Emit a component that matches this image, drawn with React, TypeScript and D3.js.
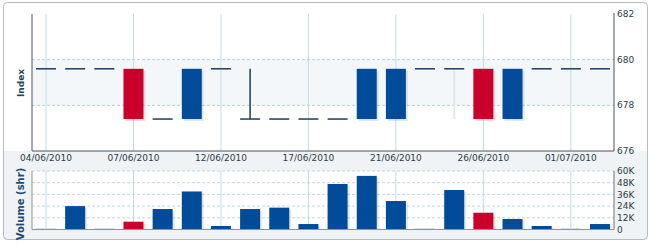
import React from "react";
import * as d3 from "d3";

const days = d3.range(20);
const openVals = [679.6, 679.6, 679.6, 679.6, 677.4, 677.4, 679.6, 677.4, 677.4, 677.4, 677.4, 677.4, 677.4, 679.6, 679.6, 679.6, 677.4, 679.6, 679.6, 679.6];
const closeVals = [679.6, 679.6, 679.6, 677.4, 677.4, 679.6, 679.6, 677.4, 677.4, 677.4, 677.4, 679.6, 679.6, 679.6, 679.6, 677.4, 679.6, 679.6, 679.6, 679.6];
const highVals = [679.6, 679.6, 679.6, 679.6, 677.4, 679.6, 679.6, 679.6, 677.4, 677.4, 677.4, 679.6, 679.6, 679.6, 679.6, 679.6, 679.6, 679.6, 679.6, 679.6];
const lowVals = [679.6, 679.6, 679.6, 677.4, 677.4, 677.4, 679.6, 677.4, 677.4, 677.4, 677.4, 677.4, 677.4, 679.6, 677.4, 677.4, 677.4, 679.6, 679.6, 679.6];
const volumes = [0, 24000, 0, 8000, 21000, 39000, 3600, 21000, 22400, 5600, 46700, 55000, 29200, 0, 40500, 17200, 10800, 3600, 0, 5600];
const dateTickIdx = [0, 3, 6, 9, 12, 15, 18];
const dateLabels = ["04/06/2010", "07/06/2010", "12/06/2010", "17/06/2010", "21/06/2010", "26/06/2010", "01/07/2010"];
const priceTicks = [676, 678, 680, 682];
const volTicks = [0, 12000, 24000, 36000, 48000, 60000];

const W = 650, H = 244;
const L = 32, R = 614;
const pTop = 14, pBot = 151;
const vTop = 171, vBot = 229.5;
const RED = "#c8002a", BLUE = "#024b98", DASH = "#1d3d5c";
const FONT = "'DejaVu Sans', Verdana, sans-serif";

export default function App() {
  const x = d3.scalePoint<number>().domain(days).range([46, 600]);
  const y = d3.scaleLinear().domain([676, 682]).range([pBot, pTop]);
  const yv = d3.scaleLinear().domain([0, 60000]).range([vBot, vTop]);
  const bw = 20;
  const fmtK = (v: number) => (v === 0 ? "0" : d3.format("d")(v / 1000) + "K");

  return (
    <svg width={W} height={H} style={{ position: "absolute", left: 0, top: 0 }} fontFamily={FONT}>
      <defs>
        <clipPath id="outer"><rect x={3} y={2} width={645} height={238} rx={4} /></clipPath>
      </defs>
      <g clipPath="url(#outer)">
        <rect x={3} y={2} width={645} height={238} fill="#eff3f5" />
        <rect x={3} y={2} width={645} height={pBot - 2} fill="#ffffff" />
        <rect x={L} y={y(680)} width={R - L} height={y(678) - y(680)} fill="#f4f7fa" />
        <rect x={L} y={vTop} width={R - L} height={vBot - vTop} fill="#ffffff" />
      </g>
      <rect x={3.5} y={2.5} width={644} height={237} rx={4} fill="none" stroke="#b4bcc2" />

      {[678, 680].map((t) => (
        <line key={t} x1={L} x2={R} y1={y(t)} y2={y(t)} stroke="#b9cfd8" strokeDasharray="3,2" />
      ))}
      {dateTickIdx.map((i) => (
        <g key={i}>
          <line x1={x(i)!} x2={x(i)!} y1={pTop} y2={pBot} stroke="#c5dbe5" />
          <line x1={x(i)!} x2={x(i)!} y1={vTop} y2={vBot} stroke="#c5dbe5" />
        </g>
      ))}
      {volTicks.slice(1).map((t) => (
        <line key={t} x1={L} x2={R} y1={yv(t)} y2={yv(t)} stroke="#c8d6dd" strokeDasharray="3,2" />
      ))}

      {days.map((i) => {
        const o = openVals[i], c = closeVals[i];
        const cx = x(i)!;
        const top = y(Math.max(o, c)), bot = y(Math.min(o, c));
        const bodyTop = Math.max(o, c), bodyBot = Math.min(o, c);
        const els: React.ReactNode[] = [];
        if (highVals[i] > bodyTop) {
          els.push(<line key="h" x1={cx} x2={cx} y1={y(highVals[i])} y2={top} stroke={DASH} strokeWidth={1.5} />);
        }
        if (lowVals[i] < bodyBot) {
          els.push(<line key="l" x1={cx} x2={cx} y1={bot} y2={y(lowVals[i])} stroke="#dfe8ee" strokeWidth={2} />);
        }
        if (o === c) {
          els.push(<line key="d" x1={cx - bw / 2} x2={cx + bw / 2} y1={top} y2={top} stroke={DASH} strokeWidth={1.5} />);
        } else {
          const col = c < o ? RED : BLUE;
          els.push(<rect key="s" x={cx - bw / 2 + 2} y={top + 2} width={bw} height={bot - top} fill={col} opacity={0.12} />);
          els.push(<rect key="b" x={cx - bw / 2} y={top} width={bw} height={bot - top} fill={col} />);
        }
        return <g key={i}>{els}</g>;
      })}

      {days.map((i) => {
        const cx = x(i)!;
        const v = volumes[i];
        const col = closeVals[i] < openVals[i] ? RED : BLUE;
        if (v === 0) {
          return <rect key={i} x={cx - bw / 2} y={vBot - 1.5} width={bw} height={1.5} fill="#d8dfe4" />;
        }
        return (
          <g key={i}>
            <rect x={cx - bw / 2 + 2} y={yv(v) + 2} width={bw} height={vBot - yv(v) - 2} fill={col} opacity={0.12} />
            <rect x={cx - bw / 2} y={yv(v)} width={bw} height={vBot - yv(v)} fill={col} />
          </g>
        );
      })}

      <line x1={L} x2={L} y1={pTop} y2={pBot} stroke="#4a5560" />
      <line x1={R} x2={R} y1={pTop - 1} y2={pBot} stroke="#4a5560" />
      <line x1={L} x2={R} y1={pBot} y2={pBot} stroke="#4a5560" />
      <line x1={L} x2={L} y1={vTop} y2={vBot} stroke="#8a949c" />
      <line x1={R} x2={R} y1={vTop} y2={vBot} stroke="#6a747c" />
      <line x1={L} x2={R} y1={vBot} y2={vBot} stroke="#8a949c" />

      {priceTicks.map((t) => (
        <text key={t} x={R + 3} y={y(t)} dy="0.35em" fontSize={9} fill="#2e3c46">{t}</text>
      ))}
      {volTicks.map((t) => (
        <text key={t} x={R + 3} y={yv(t)} dy="0.35em" fontSize={9} fill="#2e3c46">{fmtK(t)}</text>
      ))}
      {dateTickIdx.map((i, k) => (
        <text key={i} x={x(i)!} y={161} textAnchor="middle" fontSize={9} fill="#2e3c46">{dateLabels[k]}</text>
      ))}

      <text transform={`translate(24,83) rotate(-90)`} textAnchor="middle" fontSize={9} fontWeight="bold" fill="#1f4a5a">Index</text>
      <text transform={`translate(24,204) rotate(-90)`} textAnchor="middle" fontSize={10} fontWeight="bold" fill="#1f4a72">Volume (shr)</text>
    </svg>
  );
}
